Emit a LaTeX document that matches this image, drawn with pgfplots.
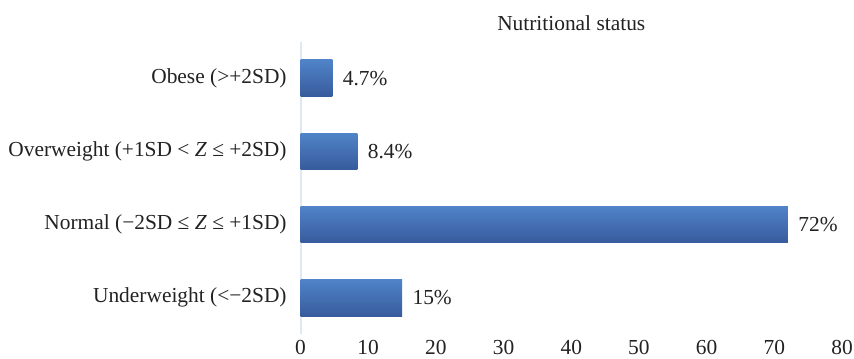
\documentclass[border=0pt]{standalone}
\usepackage{pgfplots}
\pgfplotsset{compat=1.18}
\usepackage{fontspec}
\setmainfont{Liberation Serif}
\definecolor{barTop}{HTML}{5083C8}
\definecolor{barBot}{HTML}{375B9C}
\definecolor{axisLine}{HTML}{DFE9F6}
\definecolor{txt}{HTML}{222222}
\begin{document}
\fontsize{10.7}{12.8}\selectfont
\begin{tikzpicture}
\begin{axis}[
  scale only axis, width=270.75pt, height=146.35pt,
  xmin=0, xmax=80, ymin=-0.5, ymax=3.5,
  xtick={0,10,...,80},
  ytick={0,1,2,3},
  yticklabels={Underweight (<−2SD), Normal (−2SD ≤ \textit{Z} ≤ +1SD), Overweight (+1SD < \textit{Z} ≤ +2SD), Obese (>+2SD)},
  axis x line*=bottom, axis y line*=left,
  x axis line style={draw=none},
  y axis line style={draw=axisLine, line width=1pt, -},
  major tick length=0pt,
  tick style={draw=none},
  /pgf/number format/assume math mode=true,
  tick label style={text=txt},
  yticklabel style={inner xsep=0pt, xshift=-6.75pt},
  xticklabel style={inner ysep=0.5pt, inner xsep=0pt, yshift=-2.4pt},
  title={Nutritional status},
  title style={text=txt, yshift=-4.45pt},
  nodes near coords,
  point meta=explicit symbolic,
  nodes near coords style={text=txt, anchor=west, xshift=1.5pt},
  mybar/.style={xbar, bar width=18.35pt, bar shift=0pt, draw=none, mark=none, top color=barTop, bottom color=barBot},
]
\addplot[mybar] coordinates {(15,0) [15\%]};
\addplot[mybar] coordinates {(72,1) [72\%]};
\addplot[mybar] coordinates {(8.4,2) [8.4\%]};
\addplot[mybar] coordinates {(4.7,3) [4.7\%]};
\end{axis}
\pgfresetboundingbox
\path[use as bounding box] ([xshift=-150.25pt,yshift=-12pt]current axis.south west) rectangle ([xshift=6pt,yshift=20.85pt]current axis.north east);
\end{tikzpicture}
\end{document}
